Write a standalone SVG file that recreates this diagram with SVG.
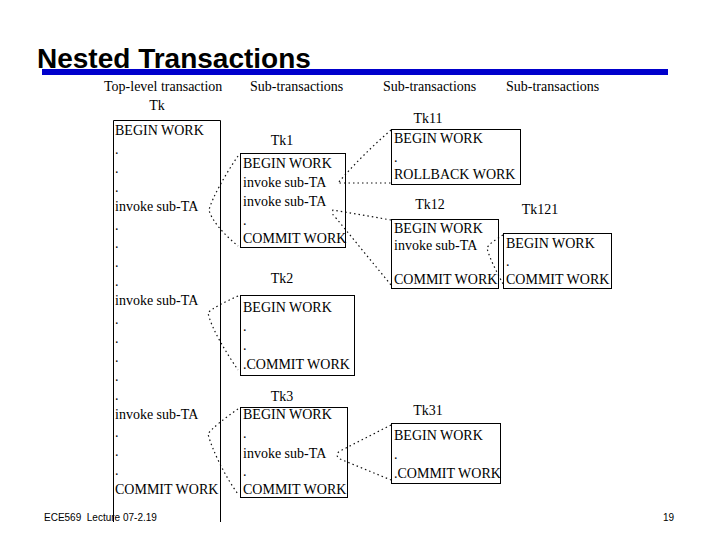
<svg xmlns="http://www.w3.org/2000/svg" width="720" height="540" viewBox="0 0 720 540">
<style>
.t{font-family:"Liberation Serif","Times New Roman",serif;font-size:14px;fill:#000}
.h{font-family:"Liberation Serif","Times New Roman",serif;font-size:14px;fill:#000}
.m{text-anchor:middle}
.box{fill:none;stroke:#000;stroke-width:1}
.c{fill:none;stroke:#111;stroke-width:1.2;stroke-dasharray:1.5 3}
.title{font-family:"Liberation Sans",Arial,sans-serif;font-size:28px;font-weight:bold;fill:#000}
.f{font-family:"Liberation Sans",Arial,sans-serif;font-size:10px;fill:#000;white-space:pre}
</style>
<rect width="720" height="540" fill="#fff"/>
<text class="title" x="37" y="68">Nested Transactions</text>
<rect x="42" y="69" width="626" height="6" fill="#0000cc"/>
<g id="headers">
<text class="h" x="104" y="91">Top-level transaction</text>
<text class="h" x="250" y="91">Sub-transactions</text>
<text class="h" x="383" y="91">Sub-transactions</text>
<text class="h" x="506" y="91">Sub-transactions</text>
</g>
<g id="connectors">
<path class="c" d="M238,156 C225,175 212,198 209,210 C212,222 226,236 238,246"/>
<path class="c" d="M238,296 C225,302 212,308 208,313 C212,330 226,352 238,370"/>
<path class="c" d="M238,409 C225,418 212,428 208,434 C212,450 226,478 238,494"/>
<path class="c" d="M391,130 Q362,155 338,183 L391,183"/>
<path class="c" d="M391,220 L333,210 Q331,214 336,218 L391,285"/>
<path class="c" d="M503,235 C495,240 489,244 487,248 C490,260 498,274 503,284"/>
<path class="c" d="M391,425 L340,451 Q334,455 340,459 L391,480"/>
</g>
<g id="Tk">
<text class="t m" x="157" y="110">Tk</text>
<path class="box" d="M113.5,522 V120.5 H220.5 V522"/>
<text class="t" x="115" y="135">BEGIN WORK</text>
<text class="t" x="115" y="153.9">.</text>
<text class="t" x="115" y="172.8">.</text>
<text class="t" x="115" y="191.7">.</text>
<text class="t" x="115" y="210.6">invoke sub-TA</text>
<text class="t" x="115" y="229.5">.</text>
<text class="t" x="115" y="248.4">.</text>
<text class="t" x="115" y="267.3">.</text>
<text class="t" x="115" y="286.2">.</text>
<text class="t" x="115" y="305.1">invoke sub-TA</text>
<text class="t" x="115" y="324">.</text>
<text class="t" x="115" y="342.9">.</text>
<text class="t" x="115" y="361.8">.</text>
<text class="t" x="115" y="380.7">.</text>
<text class="t" x="115" y="399.6">.</text>
<text class="t" x="115" y="418.5">invoke sub-TA</text>
<text class="t" x="115" y="437.4">.</text>
<text class="t" x="115" y="456.3">.</text>
<text class="t" x="115" y="475.2">.</text>
<text class="t" x="115" y="494.1">COMMIT WORK</text>
</g>
<g id="Tk1">
<text class="t m" x="282" y="145">Tk1</text>
<rect class="box" x="240.5" y="153.5" width="105" height="94"/>
<text class="t" x="243" y="168">BEGIN WORK</text>
<text class="t" x="243" y="187">invoke sub-TA</text>
<text class="t" x="243" y="206">invoke sub-TA</text>
<text class="t" x="243" y="225">.</text>
<text class="t" x="243" y="243">COMMIT WORK</text>
</g>
<g id="Tk2">
<text class="t m" x="282" y="283">Tk2</text>
<rect class="box" x="240.5" y="295.5" width="114" height="80"/>
<text class="t" x="243" y="312">BEGIN WORK</text>
<text class="t" x="243" y="331">.</text>
<text class="t" x="243" y="350">.</text>
<text class="t" x="243" y="369">.COMMIT WORK</text>
</g>
<g id="Tk3">
<text class="t m" x="282" y="401">Tk3</text>
<rect class="box" x="240.5" y="407.5" width="107" height="90"/>
<text class="t" x="243" y="419">BEGIN WORK</text>
<text class="t" x="243" y="438">.</text>
<text class="t" x="243" y="457.5">invoke sub-TA</text>
<text class="t" x="243" y="476">.</text>
<text class="t" x="243" y="494">COMMIT WORK</text>
</g>
<g id="Tk11">
<text class="t m" x="428" y="123">Tk11</text>
<rect class="box" x="391.5" y="129.5" width="129" height="55"/>
<text class="t" x="394" y="143">BEGIN WORK</text>
<text class="t" x="394" y="162">.</text>
<text class="t" x="394" y="179">ROLLBACK WORK</text>
</g>
<g id="Tk12">
<text class="t m" x="430" y="209">Tk12</text>
<rect class="box" x="391.5" y="219.5" width="107" height="69"/>
<text class="t" x="394" y="233">BEGIN WORK</text>
<text class="t" x="394" y="250">invoke sub-TA</text>
<text class="t" x="394" y="284">COMMIT WORK</text>
</g>
<g id="Tk121">
<text class="t m" x="540" y="214">Tk121</text>
<rect class="box" x="503.5" y="233.5" width="108" height="55"/>
<text class="t" x="506" y="248">BEGIN WORK</text>
<text class="t" x="506" y="266">.</text>
<text class="t" x="506" y="284">COMMIT WORK</text>
</g>
<g id="Tk31">
<text class="t m" x="428" y="415">Tk31</text>
<rect class="box" x="391.5" y="423.5" width="109" height="60"/>
<text class="t" x="394" y="440">BEGIN WORK</text>
<text class="t" x="394" y="459">.</text>
<text class="t" x="394" y="478">.COMMIT WORK</text>
</g>
<g id="footer">
<text class="f" x="44" y="521" xml:space="preserve">ECE569  Lecture 07-2.19</text>
<text class="f" x="663" y="521">19</text>
</g>
</svg>
